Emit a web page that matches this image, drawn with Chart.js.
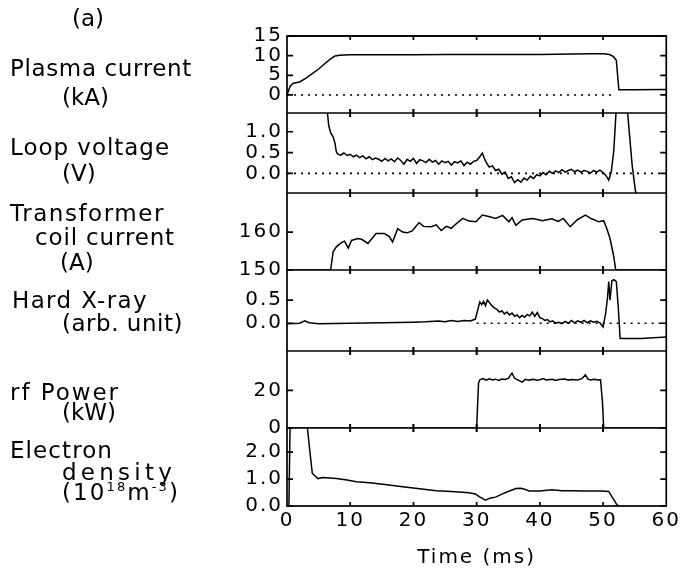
<!DOCTYPE html>
<html><head><meta charset="utf-8">
<script src="https://cdn.jsdelivr.net/npm/chart.js@4.4.1/dist/chart.umd.min.js"></script>
<style>
html,body{margin:0;padding:0;background:#fff;}
#wrap{position:relative;width:684px;height:578px;overflow:hidden;background:#fff;}
canvas{position:absolute;left:0;top:0;}
.lbl{position:absolute;font-family:"DejaVu Sans",sans-serif;font-size:23px;color:#000;line-height:1;white-space:nowrap;transform:translateY(-50%);}
.lbl sup{font-size:13px;vertical-align:9px;}
</style></head><body><div id="wrap"><canvas id="c" width="684" height="578"></canvas></div>
<script>
// ---------- data ----------
const xTicks = [0, 10, 20, 30, 40, 50, 60];
const xTitle = 'Time (ms)';
const panelTitle = '(a)';

// Plasma current (kA)
const ipT = [0, 0.5, 1.0, 2.0, 3.0, 4.0, 5.0, 6.0, 7.0, 7.6, 8.3, 10, 15, 20, 25, 30, 35, 40, 45, 48, 50.2, 51.0, 51.6, 52.1, 52.3, 52.5, 55, 60];
const ipV = [0, 2.2, 3.0, 3.3, 4.3, 5.4, 6.6, 8.0, 9.3, 9.9, 10.1, 10.2, 10.2, 10.2, 10.3, 10.3, 10.3, 10.3, 10.4, 10.5, 10.5, 10.3, 9.8, 8.8, 5.0, 1.3, 1.3, 1.4];
const ipZeroT = [0, 51.5];

// Loop voltage (V)
const vlT = [6.0, 6.3, 6.6, 6.9, 7.3, 7.6, 7.8, 8.0, 8.5, 9.0, 9.5, 10.0, 10.5, 11.0, 11.5, 12.0, 12.5, 13.0, 13.5, 14.0, 14.5, 15.0, 15.5, 16.0, 16.5, 17.0, 17.5, 18.0, 18.5, 19.0, 19.5, 20.0, 20.5, 21.0, 21.5, 22.0, 22.5, 23.0, 23.5, 24.0, 24.5, 25.0, 25.5, 26.0, 26.5, 27.0, 27.5, 28.0, 28.5, 29.0, 29.5, 30.0, 30.5, 30.9, 31.3, 31.7, 32.0, 32.5, 33.0, 33.5, 34.0, 34.5, 35.0, 35.5, 36.0, 36.5, 37.0, 37.5, 38.0, 38.5, 39.0, 39.5, 40.0, 40.5, 41.0, 41.5, 42.0, 42.5, 43.0, 43.5, 44.0, 44.5, 45.0, 45.5, 46.0, 46.5, 47.0, 47.5, 48.0, 48.5, 49.0, 49.5, 50.0, 50.5, 50.9, 51.3, 51.7, 52.1, 53.8, 54.2, 54.6, 55.1, 55.4];
const vlV = [1.8, 1.6, 1.15, 0.98, 0.88, 0.72, 0.52, 0.47, 0.44, 0.49, 0.43, 0.46, 0.40, 0.44, 0.38, 0.42, 0.35, 0.40, 0.33, 0.37, 0.34, 0.29, 0.36, 0.30, 0.35, 0.28, 0.37, 0.31, 0.22, 0.34, 0.29, 0.36, 0.24, 0.33, 0.30, 0.26, 0.34, 0.27, 0.31, 0.22, 0.30, 0.26, 0.29, 0.20, 0.28, 0.25, 0.30, 0.19, 0.27, 0.22, 0.29, 0.31, 0.40, 0.49, 0.33, 0.22, 0.15, 0.18, 0.07, 0.10, -0.02, 0.03, -0.12, -0.08, -0.22, -0.15, -0.21, -0.11, -0.16, -0.07, -0.12, -0.03, -0.06, 0.02, -0.03, 0.05, 0.00, 0.06, 0.02, 0.09, 0.03, 0.07, 0.10, 0.04, 0.08, 0.03, 0.07, 0.05, 0.01, 0.07, 0.03, 0.08, 0.02, -0.06, -0.16, 0.04, 0.55, 1.6, 1.6, 0.9, 0.2, -0.4, -0.6];
const vlZeroT = [0, 60];

// Transformer coil current (A)
const tcT = [0, 6.9, 7.3, 7.8, 8.6, 9.1, 9.7, 10.2, 11.2, 11.8, 12.8, 14.1, 15.4, 16.2, 16.7, 17.5, 18.3, 19.0, 19.8, 20.9, 21.6, 22.8, 23.6, 24.4, 25.2, 26.0, 26.5, 27.8, 28.8, 29.9, 30.9, 31.9, 33.0, 34.1, 35.1, 35.6, 36.2, 37.2, 38.8, 39.6, 40.4, 41.9, 42.9, 43.7, 44.8, 45.9, 47.2, 48.2, 49.3, 50.1, 50.6, 51.1, 51.7, 52.0, 60];
const tcV = [150, 150, 154.8, 156.1, 157.2, 157.6, 155.8, 157.8, 158.3, 158.1, 157.0, 159.6, 159.6, 158.8, 157.4, 160.9, 160.0, 159.8, 160.3, 162.5, 161.5, 161.4, 161.9, 160.4, 161.5, 161.0, 161.8, 163.6, 162.9, 162.7, 164.5, 164.1, 163.6, 164.4, 162.7, 163.8, 161.8, 163.2, 163.6, 163.3, 163.0, 163.5, 162.8, 163.6, 161.4, 163.2, 164.5, 163.5, 162.7, 163.0, 160.9, 158.3, 153.5, 150, 150];

// Hard X-ray (arb. unit)
const hxT = [0, 2, 2.8, 3.5, 5, 10, 15, 20, 22, 24, 25, 26, 27, 28, 29, 29.8, 30.2, 30.5, 30.8, 31.1, 31.4, 31.7, 32.0, 32.4, 32.8, 33.2, 33.6, 34.0, 34.4, 34.8, 35.2, 35.6, 36.0, 36.4, 36.8, 37.2, 37.6, 38.0, 38.4, 38.8, 39.2, 39.6, 40.0, 40.4, 40.8, 41.2, 41.6, 42.0, 42.5, 43, 43.5, 44, 44.5, 45, 45.5, 46, 46.5, 47, 47.5, 48, 48.5, 49, 49.5, 50.0, 50.4, 50.7, 50.9, 51.1, 51.4, 51.7, 52.1, 52.4, 52.7, 56, 60];
const hxV = [-0.01, 0.0, 0.05, 0.01, -0.01, 0.0, 0.01, 0.02, 0.03, 0.05, 0.03, 0.06, 0.04, 0.06, 0.05, 0.09, 0.30, 0.46, 0.40, 0.47, 0.38, 0.50, 0.45, 0.38, 0.33, 0.30, 0.24, 0.27, 0.20, 0.24, 0.18, 0.22, 0.15, 0.18, 0.12, 0.17, 0.13, 0.19, 0.16, 0.24, 0.15, 0.23, 0.12, 0.10, 0.06, 0.08, 0.03, 0.05, 0.0, 0.02, -0.01, 0.04, 0.0, 0.06, 0.01, 0.05, 0.02, 0.06, 0.01, 0.05, 0.02, 0.04, 0.01, -0.08, 0.20, 0.55, 0.90, 0.50, 0.92, 0.94, 0.90, 0.35, -0.33, -0.33, -0.30];
const hxZeroT = [30, 60];

// rf Power (kW)
const rfT = [0, 30.0, 30.3, 30.5, 31.0, 31.5, 32, 32.5, 33, 33.5, 34, 34.5, 35, 35.6, 36, 36.5, 37.2, 37.7, 38.2, 39, 39.5, 40, 40.5, 41, 42, 42.5, 43, 44, 44.5, 45, 46, 46.7, 47.2, 47.6, 48, 48.6, 49.2, 49.6, 49.9, 50.1, 60];
const rfV = [0, 0, 24, 25.7, 26.3, 25.5, 26.2, 25.6, 26.0, 25.3, 26.1, 25.8, 26.4, 29.2, 26.5, 25.6, 24.4, 25.9, 25.5, 26.0, 25.4, 25.7, 26.3, 25.6, 25.9, 25.3, 25.8, 26.1, 25.5, 25.8, 25.6, 26.4, 28.3, 26.0, 25.6, 25.9, 25.5, 25.7, 14, 0, 0];

// Electron density (10^18 m^-3)
const neT = [0, 0.3, 0.5, 3.1, 3.6, 4.0, 4.9, 5.7, 7.8, 9.5, 11, 13.1, 15.5, 18.3, 21, 23.6, 26, 28.8, 29.8, 30.4, 31.4, 32.2, 33, 34.1, 35.2, 36.2, 37, 37.6, 38.3, 40, 41.9, 43.5, 45, 47, 49.8, 50.9, 51.4, 52.2, 52.5];
const neV = [0, 0, 3.2, 3.2, 2.07, 1.21, 1.02, 1.06, 1.02, 0.97, 0.90, 0.86, 0.80, 0.72, 0.64, 0.57, 0.54, 0.49, 0.45, 0.35, 0.22, 0.30, 0.33, 0.45, 0.56, 0.65, 0.66, 0.62, 0.56, 0.56, 0.60, 0.57, 0.57, 0.56, 0.56, 0.54, 0.35, 0.04, 0];

// axis ticks / labels per panel (top to bottom)
const ipTicks = [0, 5, 10, 15];        const ipTickLabels = ['0', '5', '10', '15'];
const vlTicks = [0, 0.5, 1.0];         const vlTickLabels = ['0.0', '0.5', '1.0'];
const tcTicks = [150, 160];            const tcTickLabels = ['150', '160'];
const hxTicks = [0, 0.5];              const hxTickLabels = ['0.0', '0.5'];
const rfTicks = [0, 20];               const rfTickLabels = ['0', '20'];
const neTicks = [0, 1, 2];             const neTickLabels = ['0.0', '1.0', '2.0'];

const ipRange = [-4.6, 15];
const vlRange = [-0.47, 1.45];
const tcRange = [150, 170.3];
const hxRange = [-0.6, 1.15];
const rfRange = [0, 41];
const neRange = [0, 2.9];

// left-side label texts
const sideTexts = ['Plasma current', '(kA)', 'Loop voltage', '(V)', 'Transformer', 'coil current', '(A)',
  'Hard X-ray', '(arb. unit)', 'rf Power', '(kW)', 'Electron', 'density', '(10<sup>18</sup>m<sup>-3</sup>)'];
// layout of those texts: [left, centre y, target width (0 = natural)]
const sideLayout = [[10, 68, 182], [62, 97, 0], [10, 147, 160], [62, 173, 0], [10, 213, 155], [35, 237, 140], [60, 262, 0],
  [12, 300, 136], [62, 323, 121], [10, 392, 110], [62, 412, 0], [10, 450, 103], [62, 472, 114], [62, 492, 118]];

// ---------- build ----------
const wrap = document.getElementById('wrap');
const addLbl = (html, x, y, w) => {
  const d = document.createElement('div'); d.className = 'lbl'; d.innerHTML = html;
  d.style.left = x + 'px'; d.style.top = y + 'px'; wrap.appendChild(d);
  if (w) {
    const n = d.textContent.length;
    const ls = (w - d.getBoundingClientRect().width) / n;
    d.style.letterSpacing = ls.toFixed(2) + 'px';
  }
};
addLbl(panelTitle, 72, 18, 0);
sideTexts.forEach((t, i) => addLbl(t, sideLayout[i][0], sideLayout[i][1], sideLayout[i][2]));

const pts = (t, v) => t.map((x, i) => ({x, y: v[i]}));
const zeroPts = t => t.map(x => ({x, y: 0}));

const panels = [
  {id: 'y1', t: ipT, v: ipV, ticks: ipTicks, labels: ipTickLabels, range: ipRange, w: 77, zero: ipZeroT},
  {id: 'y2', t: vlT, v: vlV, ticks: vlTicks, labels: vlTickLabels, range: vlRange, w: 80, zero: vlZeroT},
  {id: 'y3', t: tcT, v: tcV, ticks: tcTicks, labels: tcTickLabels, range: tcRange, w: 77, zero: null},
  {id: 'y4', t: hxT, v: hxV, ticks: hxTicks, labels: hxTickLabels, range: hxRange, w: 81, zero: hxZeroT},
  {id: 'y5', t: rfT, v: rfV, ticks: rfTicks, labels: rfTickLabels, range: rfRange, w: 77, zero: null},
  {id: 'y6', t: neT, v: neV, ticks: neTicks, labels: neTickLabels, range: neRange, w: 78, zero: null}
];

const FONT = {family: 'DejaVu Sans', size: 20};
const datasets = [];
panels.forEach(p => datasets.push({data: pts(p.t, p.v), yAxisID: p.id, borderColor: '#000', borderWidth: 1.5, pointRadius: 0, tension: 0, fill: false}));
panels.forEach(p => { if (p.zero) datasets.push({data: zeroPts(p.zero), yAxisID: p.id, borderColor: '#000', borderWidth: 1.6, borderDash: [2, 5], pointRadius: 0, fill: false}); });

const scales = {
  x: {
    type: 'linear', position: 'bottom', min: 0, max: 60,
    afterBuildTicks: a => { a.ticks = xTicks.map(v => ({value: v})); },
    afterFit: s => { s.height = 72; },
    ticks: {font: FONT, color: '#000', padding: 3, autoSkip: false, maxRotation: 0},
    grid: {display: false, drawTicks: false}, border: {display: false},
    title: {display: true, text: xTitle, font: FONT, color: '#000', padding: {top: 0, bottom: 8}}
  }
};
panels.forEach((p, i) => {
  scales[p.id] = {
    type: 'linear', position: 'left', stack: 'panels', stackWeight: p.w, weight: 10 - i,
    min: p.range[0], max: p.range[1],
    afterBuildTicks: a => { a.ticks = p.ticks.map(v => ({value: v})); },
    afterFit: s => { s.width = 60; },
    ticks: {font: FONT, color: '#000', padding: 4, autoSkip: false, callback: (v, k) => p.labels[k]},
    grid: {display: false, drawTicks: false}, border: {display: false}
  };
});

const spacing = {
  id: 'spacing',
  beforeLayout(c) { c.ctx.letterSpacing = '2px'; },
  beforeDraw(c) { c.ctx.letterSpacing = '2px'; }
};
const frame = {
  id: 'frame',
  afterDatasetsDraw(c) {
    const {ctx, chartArea: a, scales: sc} = c;
    const xs = sc.x;
    ctx.save();
    ctx.strokeStyle = '#000';
    ctx.lineWidth = 1.7;
    ctx.setLineDash([]);
    ctx.strokeRect(a.left, a.top, a.right - a.left, a.bottom - a.top);
    panels.forEach(p => {
      const s = sc[p.id];
      ctx.beginPath(); ctx.moveTo(a.left, s.top); ctx.lineTo(a.right, s.top); ctx.stroke();
      s.ticks.forEach(t => {
        const py = s.getPixelForValue(t.value);
        ctx.beginPath();
        ctx.moveTo(a.left, py); ctx.lineTo(a.left + 6, py);
        ctx.moveTo(a.right, py); ctx.lineTo(a.right - 6, py);
        ctx.stroke();
      });
      [s.top, s.bottom].forEach(yb => {
        xTicks.slice(1, -1).forEach(v => {
          const px = xs.getPixelForValue(v);
          ctx.beginPath();
          ctx.moveTo(px, Math.max(a.top, yb - 4));
          ctx.lineTo(px, Math.min(a.bottom, yb + 4));
          ctx.stroke();
        });
      });
    });
    ctx.restore();
  }
};

new Chart(document.getElementById('c'), {
  type: 'line',
  data: {datasets},
  options: {
    responsive: false, animation: false, devicePixelRatio: 1,
    layout: {padding: {left: 227, right: 16, top: 36, bottom: 0}},
    plugins: {legend: {display: false}, tooltip: {enabled: false}},
    scales
  },
  plugins: [spacing, frame]
});
</script></body></html>
